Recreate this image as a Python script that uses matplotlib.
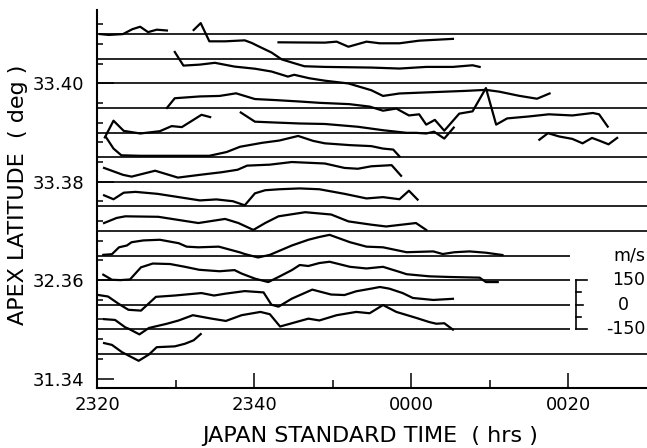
import matplotlib
matplotlib.use('Agg')
import matplotlib.pyplot as plt
import numpy as np

# time in minutes after 23:20 JST, velocity in m/s relative to each baseline
x_ticks = [0, 20, 40, 60]
x_ticklabels = ['2320', '2340', '0000', '0020']
y_ticks = [33.34, 33.36, 33.38, 33.40]
y_ticklabels = ['31.34', '32.36', '33.38', '33.40']

row_lat = [33.41 - 0.005 * i for i in range(14)]
row_end = [70, 70, 70, 70, 70, 70, 70, 70, 70, 60.2, 60.2, 60.2, 60.2, 70]
deg_per_150 = 0.005  # one row spacing = 150 m/s

t_a1 = [0.4, 1.5, 3.3, 4.5, 5.5, 6.5, 7.6, 8.9]
v_a1 = [0, -5, 0, 30, 45, 12, 27, 22]
t_a2 = [12.3, 13.2, 14.3, 16.3, 18.8, 19.7, 20.5, 22.2, 23.5, 25.2, 26.4, 29.0,
        34.9, 38.5, 41.9, 45.3, 47.8, 48.7]
v_a2 = [175, 217, 106, 106, 112, 96, 77, 38, -4, -29, -46, -50, -54, -60, -50,
        -50, -40, -50]
t_a3 = [23.1, 25.8, 29.0, 30.5, 32.0, 34.3, 36.0, 38.5, 41.0, 45.3]
v_a3 = [-50, -51, -52, -46, -77, -46, -56, -56, -40, -29]
t_b = [9.9, 11.0, 13.1, 15.0, 17.5, 20.1, 22.2, 24.3, 25.1, 27.0, 29.0, 32.0,
       34.9, 36.4, 38.5, 42.7, 47.0, 49.5, 51.2, 53.7, 56.0, 57.6]
v_b = [191, 108, 114, 125, 102, 89, 72, 41, 52, 31, 16, -1, -42, -77, -62, -54,
       -46, -40, -51, -76, -94, -62]
t_c = [8.9, 9.9, 13.1, 15.6, 17.7, 20.1, 22.6, 25.8, 28.3, 32.1, 34.7, 36.4,
       38.1, 39.7, 41.0, 41.9, 43.0, 44.2, 46.1, 47.8, 49.5, 50.8, 52.2, 55.0,
       57.5, 60.5, 63.1, 63.9, 65.0]
v_c = [0, 59, 70, 73, 89, 54, 48, 39, 31, 23, 8, -17, -4, -46, -39, -102, -73,
       -139, -35, -21, 121, -102, -64, -52, -39, -46, -31, -39, -114]
t_d = [18.3, 20.1, 22.6, 25.8, 29.0, 33.2, 36.4, 39.4, 40.6, 41.9, 42.9, 44.2, 45.4]
v_d = [122, 66, 61, 55, 52, 35, 14, -2, -2, -6, 5, -37, 30]
t_e = [1.0, 2.1, 3.4, 5.5, 8.0, 9.5, 10.8, 12.1, 13.3, 14.4]
v_e = [-30, 72, 10, -6, 8, 39, 33, 72, 108, 94]
t_f = [1.1, 2.1, 3.1, 5.5, 12.1, 14.3, 16.5, 18.2, 21.0, 23.2, 25.6, 27.5, 29.0,
       32.2, 34.9, 36.4, 37.7, 38.5]
v_f = [125, 52, 11, 8, 8, 8, 31, 63, 87, 101, 129, 99, 84, 73, 67, 52, 46, 4]
t_g = [56.3, 57.4, 58.8, 60.5, 61.8, 63.0, 63.9, 65.1, 66.2]
v_g = [106, 146, 126, 111, 84, 117, 101, 78, 117]
t_h = [0.9, 3.3, 4.4, 7.4, 10.3, 13.1, 15.9, 17.9, 19.1, 22.0, 24.8, 29.0, 31.5,
       33.2, 34.9, 37.5, 38.7]
v_h = [84, 42, 31, 67, 25, 42, 58, 73, 98, 104, 120, 111, 84, 79, 94, 101, 36]
t_i = [0.9, 2.1, 3.4, 4.9, 7.7, 10.4, 13.1, 15.2, 17.3, 18.8, 20.1, 21.4, 23.2,
       25.8, 28.3, 31.5, 34.3, 36.4, 38.5, 39.7, 40.8]
v_i = [67, 43, 83, 88, 76, 56, 36, 42, 31, 6, 79, 98, 104, 109, 104, 76, 48, 56,
       43, 95, 41]
t_j = [0.9, 2.5, 3.6, 7.8, 12.9, 16.3, 18.0, 19.9, 21.4, 23.1, 26.5, 29.8, 32.0,
       34.9, 36.8, 40.6, 41.9]
v_j = [48, 79, 89, 86, 48, 73, 48, 6, 48, 89, 114, 100, 58, 38, 27, 48, 6]
t_k = [0.8, 1.9, 2.8, 3.8, 4.4, 5.9, 8.0, 10.4, 11.4, 12.9, 15.5, 18.2, 18.8,
       20.5, 22.0, 24.8, 26.9, 28.3, 29.6, 32.2, 34.3, 36.4, 39.4, 42.8, 44.0,
       45.5, 47.4, 49.5, 51.6]
v_k = [4, 8, 50, 61, 81, 92, 96, 75, 54, 50, 54, 19, 9, -12, 4, 61, 96, 113, 126,
       81, 54, 50, 20, 25, 9, 20, 25, 17, 3]
t_l = [0.8, 1.9, 3.0, 4.2, 5.6, 7.1, 9.3, 11.2, 13.0, 15.6, 17.5, 18.4, 20.1,
       21.8, 23.1, 24.8, 25.8, 26.9, 28.3, 29.6, 32.2, 34.3, 36.4, 38.5, 39.4,
       42.3, 44.9, 48.7, 49.5, 51.0]
v_l = [33, 2, 0, 4, 78, 101, 98, 81, 63, 54, 61, 40, 9, -12, 19, 61, 92, 86, 104,
       112, 81, 71, 81, 50, 36, 23, 19, 15, -12, -12]
t_m = [0.2, 1.4, 2.8, 4.0, 5.6, 7.5, 9.9, 13.3, 14.9, 16.3, 18.8, 21.2, 22.2,
       23.1, 24.8, 27.4, 29.8, 31.5, 33.0, 34.9, 36.0, 37.2, 38.9, 40.2, 42.8, 45.3]
v_m = [59, 50, 4, -31, -36, 48, 56, 71, 56, 67, 83, 75, 0, -12, 37, 92, 62, 59,
       82, 98, 108, 98, 71, 41, 29, 36]
t_n = [0.9, 2.3, 3.6, 4.0, 5.4, 6.6, 8.9, 10.4, 12.2, 14.6, 16.4, 18.4, 20.8,
       22.0, 23.3, 24.8, 26.9, 28.3, 30.5, 33.0, 34.7, 36.4, 38.1, 40.6, 42.3,
       43.2, 44.2, 45.3]
v_n = [62, 57, 12, 4, -31, 8, 34, 54, 86, 65, 51, 86, 106, 92, 17, 37, 65, 54,
       86, 106, 98, 148, 106, 70, 44, 34, 37, -2]
t_o = [0.9, 1.9, 3.2, 5.3, 6.6, 7.6, 9.9, 11.2, 12.3, 13.2]
v_o = [66, 55, 10, -42, -4, 41, 46, 62, 83, 121]

traces = [(0, t_a1, v_a1), (1, t_a2, v_a2), (0, t_a3, v_a3), (2, t_b, v_b),
          (3, t_c, v_c), (4, t_d, v_d), (4, t_e, v_e), (5, t_f, v_f),
          (5, t_g, v_g), (6, t_h, v_h), (7, t_i, v_i), (8, t_j, v_j),
          (9, t_k, v_k), (10, t_l, v_l), (11, t_m, v_m), (12, t_n, v_n),
          (13, t_o, v_o)]

scale_t = 61.0
scale_row = 11
scale_vals = [-150, -75, 0, 75, 150]
scale_lens = [1.3, 0.55, 0.9, 0.55, 1.3]

fig = plt.figure(figsize=(6.47, 4.48), dpi=100, facecolor='white')
ax = fig.add_axes([97 / 647, 60 / 448, 550 / 647, 378 / 448])

for lat, end in zip(row_lat, row_end):
    ax.plot([0, end], [lat, lat], color='black', lw=1.2, solid_capstyle='butt')

for row, t, v in traces:
    y = row_lat[row] + np.array(v) * deg_per_150 / 150
    ax.plot(t, y, color='black', lw=1.6, solid_joinstyle='round')

# scale bar
y0 = row_lat[scale_row]
ax.plot([scale_t, scale_t], [y0 - deg_per_150, y0 + deg_per_150], color='black', lw=1.2)
for sv, ln in zip(scale_vals, scale_lens):
    yy = y0 + sv * deg_per_150 / 150
    ax.plot([scale_t, scale_t + ln], [yy, yy], color='black', lw=1.2)
ax.text(69.8, row_lat[9], 'm/s', ha='right', va='center', fontsize=12.5)
ax.text(69.8, y0 + deg_per_150, '150', ha='right', va='center', fontsize=12.5)
ax.text(67.0, y0, '0', ha='center', va='center', fontsize=12.5)
ax.text(69.8, y0 - deg_per_150, '-150', ha='right', va='center', fontsize=12.5)

ax.set_xlim(0, 70)
ax.set_ylim(33.33807, 33.4149)
ax.set_xticks(x_ticks)
ax.set_xticklabels(x_ticklabels)
ax.set_xticks([10, 30, 50], minor=True)
ax.set_yticks(y_ticks)
ax.set_yticklabels(y_ticklabels)
ax.set_yticks(np.arange(33.344, 33.4141, 0.004), minor=True)

ax.tick_params(axis='x', which='major', direction='in', length=11, width=1.1,
               labelsize=13, pad=6)
ax.tick_params(axis='x', which='minor', direction='in', length=6, width=1.1)
ax.tick_params(axis='y', which='major', direction='in', length=12, width=1.1,
               labelsize=13, pad=9)
ax.tick_params(axis='y', which='minor', direction='in', length=4, width=1.1)

for s in ['top', 'right']:
    ax.spines[s].set_visible(False)
for s in ['left', 'bottom']:
    ax.spines[s].set_linewidth(1.5)

fig.text(370 / 647, 1 - 436 / 448, 'JAPAN STANDARD TIME  ( hrs )', ha='center',
         va='center', fontsize=16)
fig.text(18 / 647, 1 - 195 / 448, 'APEX LATITUDE  ( deg )', ha='center',
         va='center', rotation=90, fontsize=16)

fig.savefig('out.png', dpi=100, facecolor='white')
